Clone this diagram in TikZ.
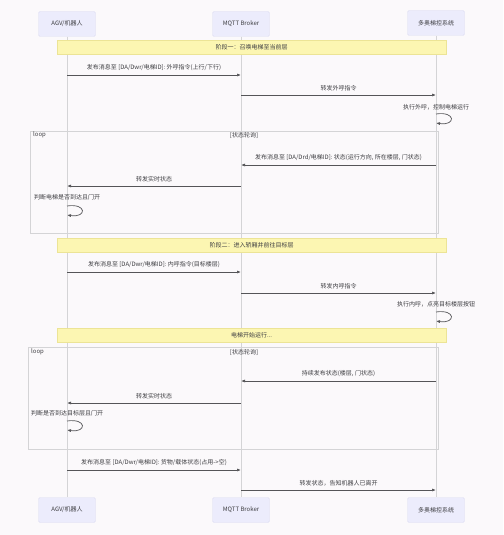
\documentclass[tikz,border=0pt]{standalone}
\usepackage{fontspec}
\setmainfont{Noto Sans CJK SC}
\usetikzlibrary{positioning,arrows.meta}
\definecolor{actorfill}{RGB}{236,236,252}
\definecolor{actorline}{RGB}{222,222,242}
\definecolor{notefill}{RGB}{252,246,178}
\definecolor{noteline}{RGB}{236,228,150}
\definecolor{lifegray}{RGB}{212,212,214}
\definecolor{msggray}{RGB}{85,85,88}
\definecolor{txtgray}{RGB}{62,62,66}
\definecolor{bgpaper}{RGB}{251,249,251}

\begin{document}
\begin{tikzpicture}[x=1pt,y=-1pt,
  actor/.style={draw=actorline,fill=actorfill,rounded corners=1.5pt,minimum width=57pt,minimum height=25pt,inner sep=1pt,font=\fontsize{6}{7}\selectfont,text=txtgray},
  note/.style={draw=noteline,fill=notefill,minimum width=389pt,minimum height=14pt,inner sep=1pt,font=\fontsize{6}{7}\selectfont,text=txtgray},
  msg/.style={draw=msggray,line width=0.7pt,-{Latex[length=4pt,width=3pt]}},
  life/.style={draw=lifegray,line width=0.6pt},
  frame/.style={draw=lifegray,line width=0.6pt},
  lbl/.style={font=\fontsize{6}{7}\selectfont,text=txtgray,inner sep=1pt}]
\useasboundingbox (0,0) rectangle (503,535);
\fill[bgpaper] (0,0) rectangle (503,535);

\node[actor] (agvT) at (67,24) {AGV/机器人};
\node[actor] (mqT) at (241,24) {MQTT Broker};
\node[actor] (dtT) at (436,23) {多奥梯控系统};
\node[actor] (agvB) at (67,510) {AGV/机器人};
\node[actor] (mqB) at (241,510) {MQTT Broker};
\node[actor] (dtB) at (436,510) {多奥梯控系统};
\draw[life] (agvT) -- (agvB);
\draw[life] (mqT) -- (mqB);
\draw[life] (dtT) -- (dtB);

\node[note] (n1) at (251.5,47) {阶段一：召唤电梯至当前层};
\draw[msg] (agvT |- 0,75) -- node[lbl,above=3pt] (l1) {发布消息至 [DA/Dwr/电梯ID]: 外呼指令(上行/下行)} (mqT |- 0,75);
\draw[msg] (mqT |- 0,95) -- node[lbl,above=3pt] (l2) {转发外呼指令} (dtT |- 0,95);
\node[lbl] (l3) at (dtT |- 0,107) {执行外呼，控制电梯运行};
\draw[msg] (dtT |- 0,114) .. controls +(20,-3) and +(20,3) .. (dtT |- 0,123);

\draw[frame] (30,131) rectangle (438,233);
\node[lbl,anchor=west] (lp1) at (32,135) {loop};
\node[lbl] (g1) at (244,135) {[状态轮询]};
\draw[msg] (dtT |- 0,165) -- node[lbl,above=3pt] (l4) {发布消息至 [DA/Drd/电梯ID]: 状态(运行方向, 所在楼层, 门状态)} (mqT |- 0,165);
\draw[msg] (mqT |- 0,186) -- node[lbl,above=3pt] (l5) {转发实时状态} (agvT |- 0,186);
\node[lbl] (l6) at (agvT |- 0,197) {判断电梯是否到达且门开};
\draw[msg] (agvT |- 0,206) .. controls +(20,-3) and +(20,3) .. (agvT |- 0,215);

\node[note] (n2) at (251.5,245) {阶段二：进入轿厢并前往目标层};
\draw[msg] (agvT |- 0,272) -- node[lbl,above=3pt] (l7) {发布消息至 [DA/Dwr/电梯ID]: 内呼指令(目标楼层)} (mqT |- 0,272);
\draw[msg] (mqT |- 0,293) -- node[lbl,above=3pt] (l8) {转发内呼指令} (dtT |- 0,293);
\node[lbl] (l9) at (dtT |- 0,304) {执行内呼，点亮目标楼层按钮};
\draw[msg] (dtT |- 0,312) .. controls +(20,-3) and +(20,3) .. (dtT |- 0,321);

\node[note] (n3) at (251.5,335) {电梯开始运行...};
\draw[frame] (28,347) rectangle (438,449);
\node[lbl,anchor=west] (lp2) at (30,352) {loop};
\node[lbl] (g2) at (244,352) {[状态轮询]};
\draw[msg] (dtT |- 0,381) -- node[lbl,above=3pt] (l10) {持续发布状态(楼层, 门状态)} (mqT |- 0,381);
\draw[msg] (mqT |- 0,403) -- node[lbl,above=3pt] (l11) {转发实时状态} (agvT |- 0,403);
\node[lbl] (l12) at (agvT |- 0,413) {判断是否到达目标层且门开};
\draw[msg] (agvT |- 0,421) .. controls +(20,-3) and +(20,3) .. (agvT |- 0,430);

\draw[msg] (agvT |- 0,470) -- node[lbl,above=3pt] (l13) {发布消息至 [DA/Dwr/电梯ID]: 货物/载体状态(占用->空)} (mqT |- 0,470);
\draw[msg] (mqT |- 0,490) -- node[lbl,above=3pt] (l14) {转发状态，告知机器人已离开} (dtT |- 0,490);
\end{tikzpicture}
\end{document}
